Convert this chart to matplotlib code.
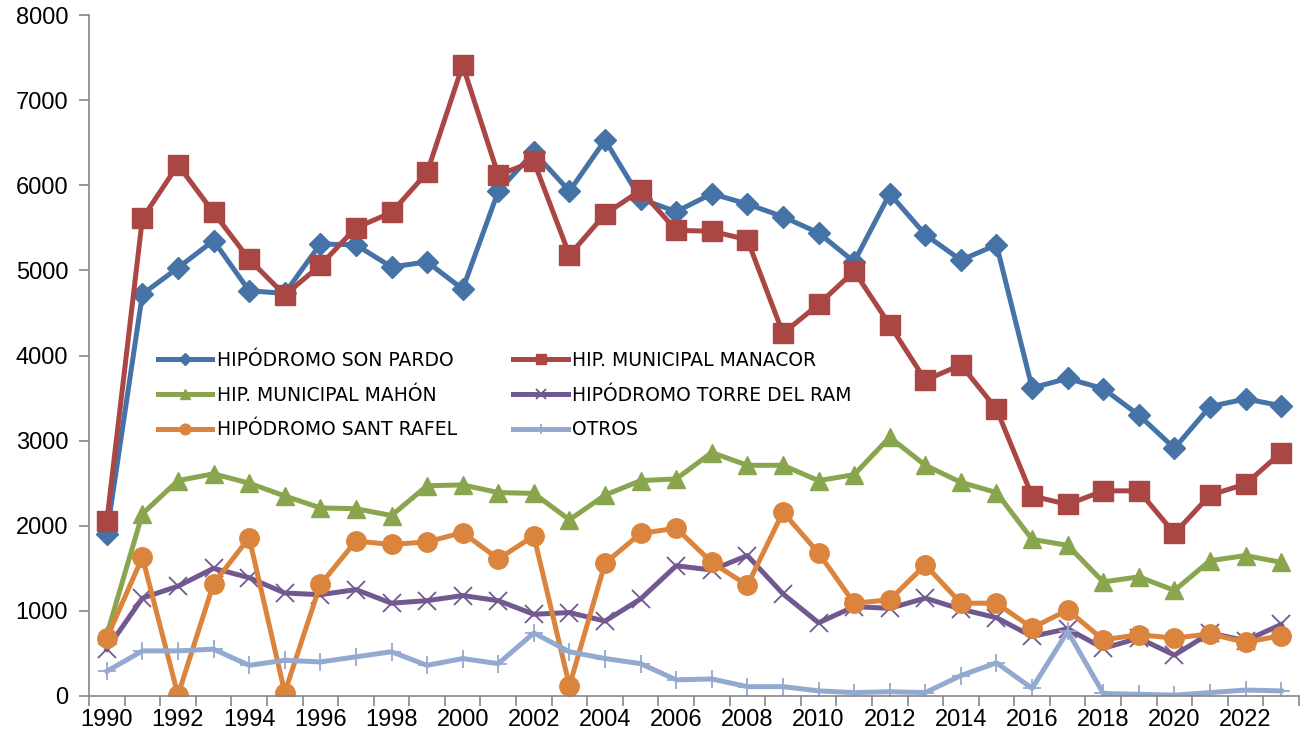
import numpy as np
import matplotlib.pyplot as plt
from matplotlib.lines import Line2D

plt.rcParams['font.family'] = ['Liberation Sans', 'DejaVu Sans']

years = list(range(1990, 2024))

son_pardo = [1900, 4720, 5030, 5350, 4760, 4730, 5310, 5300, 5040, 5100, 4780, 5930,
             6390, 5930, 6530, 5840, 5690, 5900, 5780, 5630, 5440, 5100, 5900, 5420,
             5120, 5300, 3620, 3730, 3610, 3300, 2910, 3400, 3490, 3410]
manacor = [2050, 5610, 6240, 5680, 5130, 4710, 5060, 5500, 5680, 6150, 7410, 6120,
           6280, 5180, 5660, 5940, 5470, 5460, 5360, 4260, 4600, 4990, 4360, 3710,
           3890, 3370, 2350, 2250, 2410, 2410, 1910, 2360, 2490, 2860]
mahon = [720, 2140, 2530, 2610, 2500, 2350, 2210, 2200, 2120, 2470, 2480, 2390,
         2380, 2070, 2360, 2530, 2550, 2860, 2710, 2710, 2530, 2600, 3040, 2710,
         2510, 2390, 1840, 1770, 1340, 1400, 1240, 1590, 1650, 1570]
torre_ram = [550, 1150, 1290, 1500, 1390, 1210, 1190, 1250, 1090, 1120, 1180, 1120,
             960, 980, 880, 1140, 1530, 1480, 1650, 1200, 860, 1050, 1030, 1150,
             1020, 920, 700, 790, 560, 680, 480, 740, 650, 840]
sant_rafel = [680, 1630, 10, 1320, 1860, 40, 1310, 1820, 1780, 1810, 1920, 1610,
              1880, 120, 1560, 1910, 1970, 1570, 1300, 2160, 1680, 1090, 1130, 1540,
              1090, 1090, 800, 1010, 660, 720, 680, 730, 630, 710]
otros = [290, 530, 530, 550, 360, 420, 400, 460, 520, 360, 440, 380,
         740, 520, 440, 380, 190, 200, 110, 110, 60, 40, 50, 40,
         240, 390, 90, 760, 30, 20, 10, 40, 70, 60]

series = [
    ("HIPÓDROMO SON PARDO", son_pardo, "#4572A7", "D", 11, {}),
    ("HIP. MUNICIPAL MANACOR", manacor, "#AA4643", "s", 14, {}),
    ("HIP. MUNICIPAL MAHÓN", mahon, "#89A54E", "^", 13, {}),
    ("HIPÓDROMO TORRE DEL RAM", torre_ram, "#71588F", "x", 13, {"markeredgewidth": 1.3}),
    ("HIPÓDROMO SANT RAFEL", sant_rafel, "#DB843D", "o", 14, {}),
    ("OTROS", otros, "#93A9CF", "+", 13, {"markeredgewidth": 1.3}),
]

fig = plt.figure(figsize=(13.11, 7.36), dpi=100)
ax = fig.add_axes([89 / 1311, 1 - 696 / 736, 1210 / 1311, 681 / 736])

x = np.arange(len(years))
handles = {}
for name, vals, col, mk, ms, kw in series:
    ax.plot(x, vals, color=col, lw=3.6, marker=mk, markersize=ms, label=name,
            solid_joinstyle="round", **kw)
    handles[name] = Line2D([], [], color=col, lw=3.6, marker=mk, markersize=ms * 0.55,
                           **kw)

ax.set_xlim(-0.5, len(years) - 0.5)
ax.set_ylim(0, 8000)
ax.set_yticks(range(0, 8001, 1000))

ax.set_xticks(x[::2])
ax.set_xticklabels([str(y) for y in years[::2]])
ax.set_xticks(np.arange(-0.5, len(years), 1), minor=True)
ax.tick_params(axis="x", which="major", length=0, pad=9)
ax.tick_params(axis="x", which="minor", length=7, color="#868686", width=1.2)
ax.tick_params(axis="y", length=7, color="#868686", width=1.2, pad=8)
ax.tick_params(labelsize=17)

for s in ["top", "right"]:
    ax.spines[s].set_visible(False)
for s in ["left", "bottom"]:
    ax.spines[s].set_color("#868686")
    ax.spines[s].set_linewidth(1.2)

# row-major legend order (matplotlib fills columns first)
order = [0, 2, 4, 1, 3, 5]
names = [series[i][0] for i in order]
ax.legend([handles[n] for n in names], names, ncol=2, frameon=False,
          loc="upper left", bbox_to_anchor=(0.043, 0.532),
          prop={"family": "DejaVu Sans", "size": 13.5},
          handlelength=2.9, columnspacing=3.0, labelspacing=0.85, handletextpad=0.25)

fig.savefig("out.png", dpi=100)
